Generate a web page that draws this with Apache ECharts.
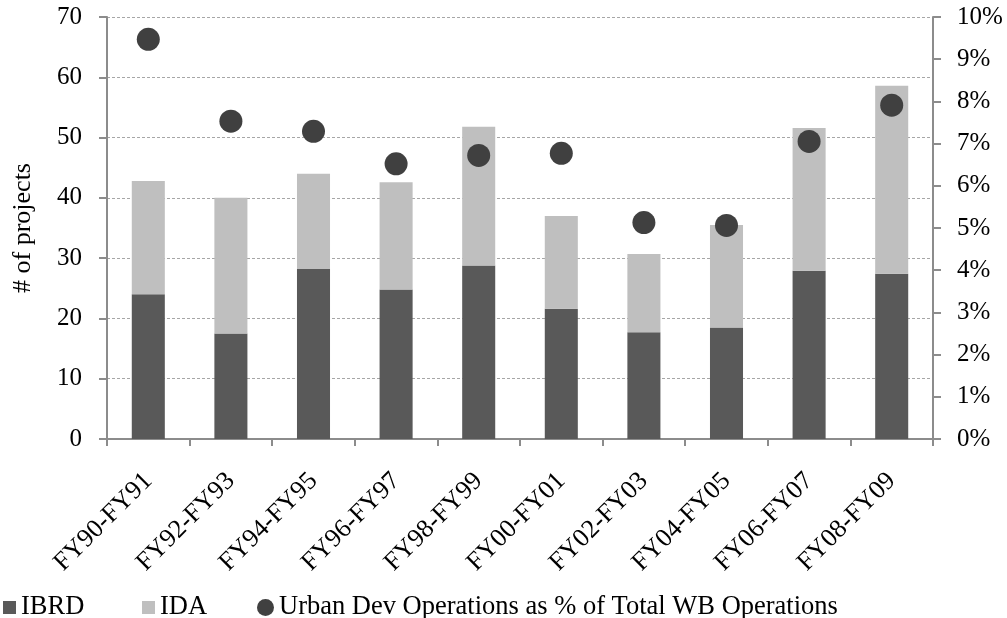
<!DOCTYPE html>
<html>
<head>
<meta charset="utf-8">
<script src="https://cdn.jsdelivr.net/npm/echarts@6/dist/echarts.min.js"></script>
<style>
  html, body { margin: 0; padding: 0; background: #fff; }
  #chart { width: 1007px; height: 618px; }
</style>
</head>
<body>
<div id="chart"></div>
<script>
// periods
const categories = ['FY90-FY91', 'FY92-FY93', 'FY94-FY95', 'FY96-FY97', 'FY98-FY99',
  'FY00-FY01', 'FY02-FY03', 'FY04-FY05', 'FY06-FY07', 'FY08-FY09'];
// # of projects
const ibrd = [24, 17.5, 28.2, 24.8, 28.8, 21.6, 17.7, 18.5, 27.9, 27.4];
const ida = [18.8, 22.5, 15.8, 17.8, 23, 15.4, 13, 17, 23.7, 31.2];
// share of total WB operations, %
const urbanShare = [9.47, 7.53, 7.29, 6.52, 6.72, 6.77, 5.13, 5.06, 7.05, 7.91];

const shareName = 'Urban Dev Operations as % of Total WB Operations';
const font = 'Liberation Serif, Times New Roman, serif';
const axisGray = '#8c8c8c';
const fs = 25;

const chart = echarts.init(document.getElementById('chart'));

// one legend per item so the gaps can match the original
function legendAt (left, name, icon, size) {
  return {
    left: left,
    top: 589,
    itemWidth: size,
    itemHeight: size,
    textStyle: { fontFamily: font, fontSize: 26.5, color: '#000' },
    data: [{ name: name, icon: icon }]
  };
}

const option = {
  animation: false,
  textStyle: { fontFamily: font, color: '#000' },
  grid: { left: 107, right: 74, top: 17, bottom: 179, containLabel: false },
  legend: [
    legendAt(-2, 'IBRD', 'rect', 13),
    legendAt(137, 'IDA', 'rect', 13),
    legendAt(252, shareName, 'circle', 17)
  ],
  xAxis: {
    type: 'category',
    data: categories,
    axisLine: { lineStyle: { color: axisGray, width: 2 } },
    axisTick: { show: true, length: 7, lineStyle: { color: axisGray, width: 2 } },
    axisLabel: {
      rotate: 45,
      margin: 38,
      fontFamily: font,
      fontSize: 26,
      color: '#000'
    }
  },
  yAxis: [
    {
      type: 'value',
      min: 0,
      max: 70,
      interval: 10,
      name: '# of projects',
      nameLocation: 'middle',
      nameGap: 71,
      nameTextStyle: { fontFamily: font, fontSize: 26, color: '#000' },
      axisLine: { show: true, lineStyle: { color: axisGray, width: 2 } },
      axisTick: { show: true, length: 8, lineStyle: { color: axisGray, width: 2 } },
      axisLabel: { margin: 25, fontFamily: font, fontSize: fs, color: '#000' },
      splitLine: { lineStyle: { color: '#a6a6a6', type: [3, 2], width: 1 } }
    },
    {
      type: 'value',
      min: 0,
      max: 10,
      interval: 1,
      position: 'right',
      axisLine: { show: true, lineStyle: { color: axisGray, width: 2 } },
      axisTick: { show: true, length: 8, lineStyle: { color: axisGray, width: 2 } },
      axisLabel: { margin: 24, fontFamily: font, fontSize: fs, color: '#000', formatter: '{value}%' },
      splitLine: { show: false }
    }
  ],
  series: [
    {
      name: 'IBRD',
      type: 'bar',
      stack: 'projects',
      barWidth: '40%',
      itemStyle: { color: '#595959' },
      data: ibrd
    },
    {
      name: 'IDA',
      type: 'bar',
      stack: 'projects',
      barWidth: '40%',
      itemStyle: { color: '#bfbfbf' },
      data: ida
    },
    {
      name: shareName,
      type: 'scatter',
      yAxisIndex: 1,
      symbol: 'circle',
      symbolSize: 23,
      itemStyle: { color: '#404040', opacity: 1 },
      data: urbanShare
    }
  ]
};

chart.setOption(option);
</script>
</body>
</html>
